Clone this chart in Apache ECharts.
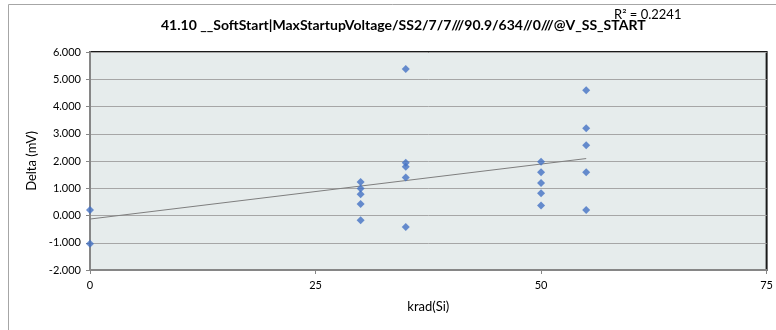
<!DOCTYPE html>
<html>
<head>
<meta charset="utf-8">
<script src="https://cdn.jsdelivr.net/npm/echarts@6/dist/echarts.min.js"></script>
<style>
html,body{margin:0;padding:0;background:#fff;}
#chart{width:776px;height:330px;}
</style>
</head>
<body>
<div id="chart"></div>
<script>
var titleText = '41.10 __SoftStart|MaxStartupVoltage/SS2/7/7///90.9/634//0///@V_SS_START';
var r2Text = 'R\u00B2 = 0.2241';
var xAxisName = 'krad(Si)';
var yAxisName = 'Delta (mV)';

var doses  = [0, 0, 30, 30, 30, 30, 30, 35, 35, 35, 35, 35, 50, 50, 50, 50, 50, 55, 55, 55, 55, 55];
var deltas = [0.20, -1.04, 1.23, 0.99, 0.78, 0.42, -0.17, 5.38, 1.94, 1.79, 1.39, -0.42, 1.97, 1.59, 1.19, 0.82, 0.37, 4.60, 3.20, 2.58, 1.59, 0.20];

var trendX = [0, 55];
var trendY = [-0.13, 2.09];

var xTicks = [0, 25, 50, 75];
var yTicks = [-2, -1, 0, 1, 2, 3, 4, 5, 6];

var pts = doses.map(function (d, i) { return [d, deltas[i]]; });
var trend = trendX.map(function (d, i) { return [d, trendY[i]]; });

var FONT = 'Lato, "Open Sans", sans-serif';
var chart = echarts.init(document.getElementById('chart'), null, {renderer: 'canvas'});
chart.setOption({
  animation: false,
  backgroundColor: '#ffffff',
  title: {
    text: titleText,
    left: 156,
    top: 13,
    textStyle: {fontFamily: FONT, fontSize: 14, fontWeight: 'bold', color: '#000'}
  },
  graphic: [
    {type: 'rect', shape: {x: 8.5, y: 4.5, width: 800, height: 400}, style: {fill: 'none', stroke: '#a6a6a6', lineWidth: 1}, silent: true, z: -10},
    {type: 'text', left: 614, top: 8, style: {text: r2Text, font: '13px ' + FONT, fill: '#000'}, z: 10}
  ],
  grid: {
    left: 90, top: 52, right: 6, bottom: 60,
    show: true, backgroundColor: '#e6ecec', borderColor: '#1a1a1a', borderWidth: 2
  },
  xAxis: {
    type: 'value', min: xTicks[0], max: xTicks[xTicks.length - 1], interval: 25,
    name: xAxisName, nameLocation: 'middle', nameGap: 30,
    nameTextStyle: {fontFamily: FONT, fontSize: 13, color: '#000'},
    axisLine: {show: true, onZero: false, lineStyle: {color: '#868686', width: 2}},
    axisTick: {show: true, length: 4, lineStyle: {color: '#868686'}},
    axisLabel: {fontFamily: FONT, fontSize: 11, color: '#000', margin: 10},
    splitLine: {show: false}
  },
  yAxis: {
    type: 'value', min: yTicks[0], max: yTicks[yTicks.length - 1], interval: 1,
    name: yAxisName, nameLocation: 'middle', nameGap: 46,
    nameTextStyle: {fontFamily: FONT, fontSize: 13, color: '#000'},
    axisLine: {show: true, onZero: false, lineStyle: {color: '#868686', width: 2}},
    axisTick: {show: true, length: 4, lineStyle: {color: '#868686'}},
    axisLabel: {fontFamily: FONT, fontSize: 11, color: '#000', margin: 9, formatter: function (v) { return v.toFixed(3); }},
    splitLine: {show: true, lineStyle: {color: '#a6a6a6', width: 1}}
  },
  series: [
    {
      type: 'line', data: trend, symbol: 'none', silent: true,
      lineStyle: {color: '#7f7f7f', width: 1}, z: 2
    },
    {
      type: 'scatter', data: pts, symbol: 'diamond', symbolSize: 8,
      itemStyle: {color: '#4472C4'}, z: 3
    }
  ]
});
</script>
</body>
</html>
